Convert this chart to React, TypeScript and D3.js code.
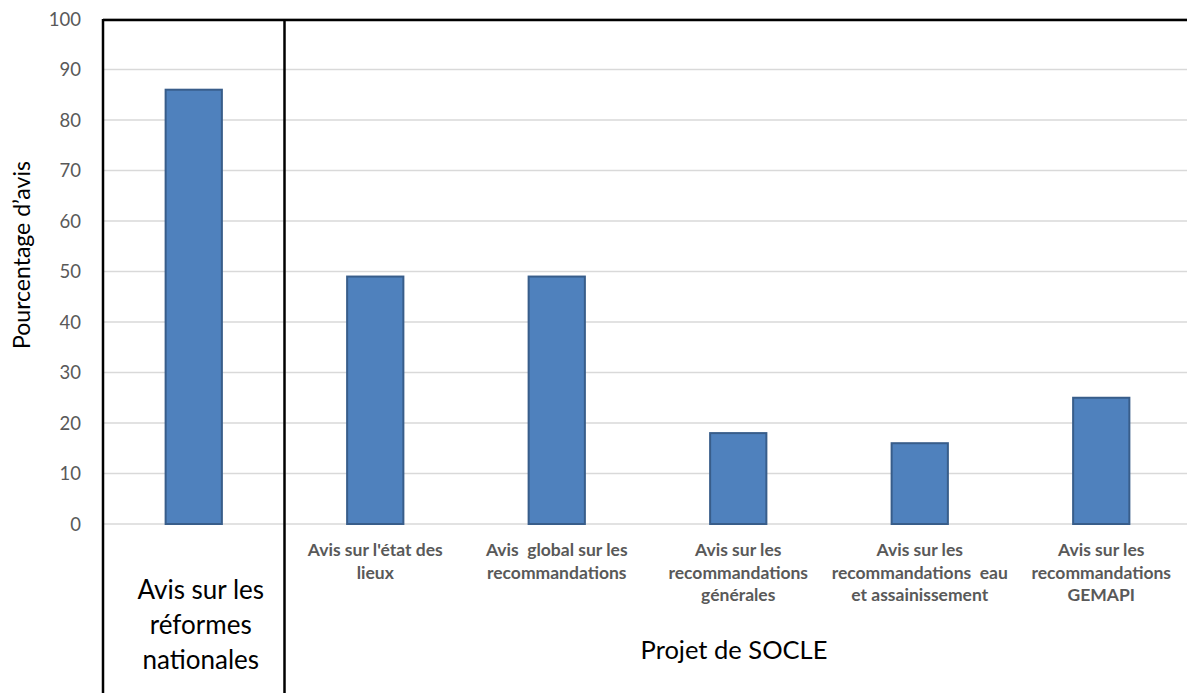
import React, { useRef, useEffect } from 'react';
import * as d3 from 'd3';

const categories = [
  'Avis sur les réformes nationales',
  "Avis sur l'état des lieux",
  'Avis  global sur les recommandations',
  'Avis sur les recommandations générales',
  'Avis sur les recommandations  eau et assainissement',
  'Avis sur les recommandations GEMAPI',
];
const values = [86, 49, 49, 18, 16, 25];
const labelLines = [
  ['Avis sur les', 'réformes', 'nationales'],
  ["Avis sur l'état des", 'lieux'],
  ['Avis  global sur les', 'recommandations'],
  ['Avis sur les', 'recommandations', 'générales'],
  ['Avis sur les', 'recommandations  eau', 'et assainissement'],
  ['Avis sur les', 'recommandations', 'GEMAPI'],
];
const yTicks = [0, 10, 20, 30, 40, 50, 60, 70, 80, 90, 100];
const groupLabel = 'Projet de SOCLE';
const yTitle = 'Pourcentage d’avis';

const W = 1187;
const H = 693;
const FONT = 'Lato, "Open Sans", sans-serif';

export default function App() {
  const svgRef = useRef<SVGSVGElement>(null);

  useEffect(() => {
    if (!svgRef.current) return;
    const svg = d3.select(svgRef.current);
    svg.selectAll('*').remove();

    const x = d3.scaleBand<string>().domain(categories).range([103, 1192]).padding(0);
    const y = d3.scaleLinear().domain([0, 100]).range([524, 19]);
    const barW = x.bandwidth() * 0.31;

    // gridlines
    svg
      .append('g')
      .selectAll('line')
      .data(yTicks)
      .enter()
      .append('line')
      .attr('x1', 103)
      .attr('x2', W)
      .attr('y1', (d) => y(d))
      .attr('y2', (d) => y(d))
      .attr('stroke', '#d9d9d9')
      .attr('stroke-width', 1.5);

    // y tick labels
    svg
      .append('g')
      .selectAll('text')
      .data(yTicks)
      .enter()
      .append('text')
      .attr('x', 81)
      .attr('y', (d) => y(d))
      .attr('dy', '0.36em')
      .attr('text-anchor', 'end')
      .attr('font-family', FONT)
      .attr('font-size', 18.5)
      .attr('fill', '#595959')
      .text((d) => d);

    // bars
    svg
      .append('g')
      .selectAll('rect')
      .data(values)
      .enter()
      .append('rect')
      .attr('x', (d, i) => x(categories[i])! + x.bandwidth() / 2 - barW / 2)
      .attr('y', (d) => y(d))
      .attr('width', barW)
      .attr('height', (d) => y(0) - y(d))
      .attr('fill', '#4f81bd')
      .attr('stroke', '#385d8a')
      .attr('stroke-width', 2);

    // black frame lines
    const sep = x(categories[1])!;
    const frame = svg.append('g').attr('stroke', '#000').attr('stroke-width', 2.5);
    frame.append('line').attr('x1', 103).attr('x2', W).attr('y1', 20).attr('y2', 20);
    frame.append('line').attr('x1', 103).attr('x2', 103).attr('y1', 19).attr('y2', H);
    frame.append('line').attr('x1', sep).attr('x2', sep).attr('y1', 19).attr('y2', H);

    // category labels (bold, small) for SOCLE group
    labelLines.slice(1).forEach((lines, j) => {
      const cx = x(categories[j + 1])! + x.bandwidth() / 2;
      const t = svg
        .append('text')
        .attr('text-anchor', 'middle')
        .attr('font-family', FONT)
        .attr('font-weight', 'bold')
        .attr('font-size', 17.5)
        .attr('fill', '#595959');
      lines.forEach((l, k) => {
        t.append('tspan')
          .attr('x', cx)
          .attr('y', 556 + k * 22.5)
          .attr('xml:space', 'preserve')
          .style('white-space', 'pre')
          .text(l);
      });
    });

    // big label for first category
    const c0 = x(categories[0])! + x.bandwidth() / 2 + 7;
    const t0 = svg
      .append('text')
      .attr('text-anchor', 'middle')
      .attr('font-family', FONT)
      .attr('font-size', 26)
      .attr('fill', '#000');
    labelLines[0].forEach((l, k) => {
      t0.append('tspan').attr('x', c0).attr('y', 599 + k * 35).text(l);
    });

    // group label
    svg
      .append('text')
      .attr('x', 734)
      .attr('y', 659)
      .attr('text-anchor', 'middle')
      .attr('font-family', FONT)
      .attr('font-size', 25.5)
      .attr('fill', '#000')
      .text(groupLabel);

    // y axis title
    svg
      .append('text')
      .attr('transform', `translate(30, 255) rotate(-90)`)
      .attr('text-anchor', 'middle')
      .attr('font-family', FONT)
      .attr('font-size', 23)
      .attr('fill', '#000')
      .text(yTitle);
  }, []);

  return (
    <svg
      ref={svgRef}
      width={W}
      height={H}
      style={{ position: 'absolute', left: 0, top: 0, background: '#fff' }}
    />
  );
}
